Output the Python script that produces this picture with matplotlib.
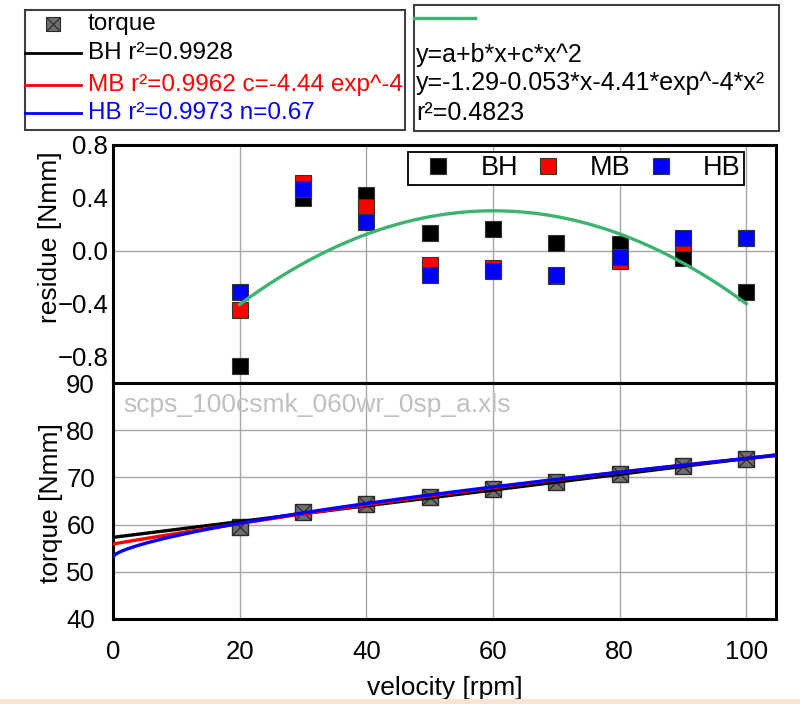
import numpy as np
import matplotlib
matplotlib.use("Agg")
import matplotlib.pyplot as plt
from matplotlib.lines import Line2D
from matplotlib.patches import Rectangle

plt.rcParams['font.family'] = ['Liberation Sans', 'DejaVu Sans']

# ---- data ----
velocity = [20, 30, 40, 50, 60, 70, 80, 90, 100]
torque = [59.5, 62.7, 64.4, 65.85, 67.5, 69.0, 70.7, 72.4, 73.9]
res_BH = [-0.87, 0.40, 0.42, 0.135, 0.165, 0.06, 0.05, -0.055, -0.315]
res_MB = [-0.45, 0.51, 0.33, -0.11, -0.13, -0.19, -0.08, 0.06, 0.10]
res_HB = [-0.31, 0.465, 0.22, -0.185, -0.155, -0.18, -0.045, 0.095, 0.10]

BH_par = [57.3, 0.167]            # a + b*x
MB_par = [55.9, 0.2254, -4.44e-4]  # a + b*x + c*x^2
HB_par = [53.2, 0.951, 0.67]      # a + k*x^n
quad_par = [-1.29, 0.053, -4.41e-4]  # residual trend
xticks = [0, 20, 40, 60, 80, 100]
res_ticks = [-0.8, -0.4, 0.0, 0.4, 0.8]
tor_ticks = [40, 50, 60, 70, 80, 90]

W, H = 800, 704
fx = lambda px: px / W
fy = lambda py: 1 - py / H

fig = plt.figure(figsize=(8, 7.04), dpi=100)
fig.patch.set_facecolor('white')

ax1 = fig.add_axes([fx(113), fy(383), 663 / W, 238 / H])
ax2 = fig.add_axes([fx(113), fy(619), 663 / W, 236 / H])

xlim = (0, 104.7)
xs = np.linspace(0, xlim[1], 600)
xq = np.linspace(20, 100, 300)

# ---- top: residues ----
ax1.set_xlim(*xlim)
ax1.set_ylim(-1.0, 0.8)
ax1.set_xticks(xticks)
ax1.set_xticklabels([])
ax1.set_yticks(res_ticks)
ax1.set_yticklabels(['\u22120.8', '\u22120.4', '0.0', '0.4', '0.8'])
ax1.grid(axis='x', color='#a8a8a8', lw=1)
ax1.axhline(0, color='#a8a8a8', lw=1, zorder=1)
ax1.set_axisbelow(True)
ms = 11
ax1.plot(velocity, res_BH, 's', color='black', ms=ms, mec='#333333', mew=0.8, ls='none', label='BH', zorder=3)
ax1.plot(velocity, res_MB, 's', color='#ff0000', ms=ms, mec='#333333', mew=0.8, ls='none', label='MB', zorder=3)
ax1.plot(velocity, res_HB, 's', color='#0000ff', ms=ms, mec='#333333', mew=0.8, ls='none', label='HB', zorder=3)
ax1.plot(xq, quad_par[0] + quad_par[1] * xq + quad_par[2] * xq ** 2, color='#3cb371', lw=2.4, zorder=4)
leg = ax1.legend(loc='upper left', bbox_to_anchor=(fx(408), fy(152)), bbox_transform=fig.transFigure,
                 ncol=3, fontsize=19.5, handlelength=2.0, handletextpad=0.55, columnspacing=0.12,
                 borderpad=0.12, borderaxespad=0, fancybox=False, framealpha=1, markerscale=1.0)
leg.get_frame().set_edgecolor('black')
leg.get_frame().set_linewidth(1.3)
ax1.set_ylabel('residue [Nmm]', fontsize=19)
ax1.yaxis.set_label_coords(-0.077, 0.613)

# ---- bottom: torque ----
ax2.set_xlim(*xlim)
ax2.set_ylim(40, 90)
ax2.set_xticks(xticks)
ax2.set_yticks(tor_ticks)
ax2.grid(True, color='#a8a8a8', lw=1)
ax2.set_axisbelow(True)
ax2.plot(velocity, torque, 's', color='#6e6e6e', ms=11.5, mec='#2a2a2a', mew=1, ls='none', zorder=2)
ax2.plot(velocity, torque, 'x', color='#2a2a2a', ms=11, mew=0.9, ls='none', zorder=2)
ax2.plot(xs, BH_par[0] + BH_par[1] * xs, color='black', lw=2.4, zorder=3)
ax2.plot(xs, MB_par[0] + MB_par[1] * xs + MB_par[2] * xs ** 2, color='#ff0000', lw=2.4, zorder=3)
ax2.plot(xs, HB_par[0] + HB_par[1] * xs ** HB_par[2], color='#0000ff', lw=2.4, zorder=3)
ax2.set_ylabel('torque [Nmm]', fontsize=19)
ax2.yaxis.set_label_coords(-0.075, 0.49)
ax2.set_xlabel('velocity [rpm]', fontsize=19)
ax2.xaxis.set_label_coords(0.5, -0.24)

for ax in (ax1, ax2):
    for s in ax.spines.values():
        s.set_linewidth(2.2)
        s.set_color('black')
    ax.tick_params(length=0, labelsize=18.5)
ax1.tick_params(axis='y', pad=3.5)
ax2.tick_params(axis='y', pad=13)
ax2.tick_params(axis='x', pad=15)

fig.text(fx(123), fy(412), 'scps_100csmk_060wr_0sp_a.xls', color='#c0c0c0', fontsize=19, va='baseline')

# ---- legend box 1 ----
fig.add_artist(Rectangle((fx(25), fy(130)), (405 - 25) / W, 120 / H, transform=fig.transFigure,
                         facecolor='white', edgecolor='#404040', lw=1.5))
fig.add_artist(Line2D([fx(53)], [fy(24)], marker='s', ms=10, color='#6e6e6e', mec='#2a2a2a', mew=0.8,
                      transform=fig.transFigure))
fig.add_artist(Line2D([fx(53)], [fy(24)], marker='x', ms=9.5, color='#2a2a2a', mew=0.8,
                      transform=fig.transFigure))
rows = [(24, 'torque', 'black', None), (53, 'BH r\u00b2=0.9928', 'black', 'black'),
        (85, 'MB r\u00b2=0.9962 c=-4.44 exp^-4', '#ff0000', '#ff0000'),
        (113, 'HB r\u00b2=0.9973 n=0.67', '#0000ff', '#0000ff')]
for y, t, tc, lc in rows:
    if lc is not None:
        fig.add_artist(Line2D([fx(25), fx(81)], [fy(y), fy(y)], color=lc, lw=2, transform=fig.transFigure))
    fig.text(fx(88), fy(y), t, color=tc, fontsize=17.5, va='center')

# ---- legend box 2 ----
fig.add_artist(Rectangle((fx(414), fy(131)), (779 - 414) / W, 126 / H, transform=fig.transFigure,
                         facecolor='white', edgecolor='#404040', lw=1.5))
fig.add_artist(Line2D([fx(414), fx(475)], [fy(18), fy(18)], color='#3cb371', lw=2.4, transform=fig.transFigure))
for y, t in [(55, 'y=a+b*x+c*x^2'), (83, 'y=-1.29-0.053*x-4.41*exp^-4*x\u00b2'), (113, 'r\u00b2=0.4823')]:
    fig.text(fx(416), fy(y), t, color='black', fontsize=18, va='center')

# bottom band
fig.add_artist(Rectangle((0, 0), 1, 5 / H, transform=fig.transFigure, facecolor='#fde3d3', edgecolor='none'))

fig.savefig('out.png', dpi=100)
